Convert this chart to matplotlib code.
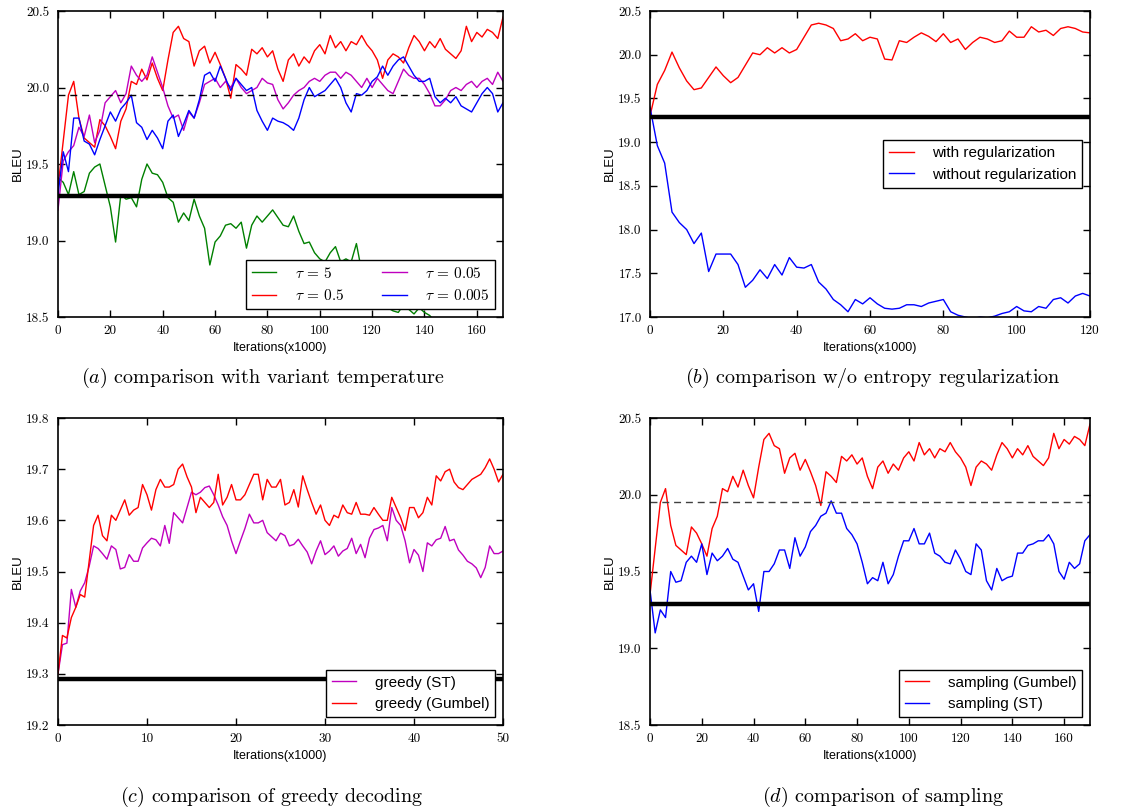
import numpy as np
import matplotlib
matplotlib.use("Agg")
import matplotlib.pyplot as plt
from matplotlib.ticker import FormatStrFormatter

plt.rcParams["font.family"] = "Liberation Sans"
plt.rcParams["mathtext.fontset"] = "cm"

# reference lines
baseline = 19.29
dashed_ref = 19.95

# (a) temperature, x = 0..170 step 2 (x1000 iterations)
x_a = np.arange(0, 171, 2)
tau_05 = [19.35, 19.65, 19.95, 20.04, 19.80, 19.67, 19.64, 19.61, 19.79, 19.75,
          19.68, 19.60, 19.78, 19.86, 20.04, 20.02, 20.12, 20.05, 20.16, 20.06,
          19.98, 20.18, 20.36, 20.40, 20.32, 20.30, 20.14, 20.24, 20.27, 20.16,
          20.23, 20.15, 20.06, 19.93, 20.15, 20.12, 20.08, 20.25, 20.22, 20.26,
          20.20, 20.24, 20.12, 20.04, 20.18, 20.22, 20.14, 20.20, 20.16, 20.24,
          20.28, 20.22, 20.34, 20.26, 20.30, 20.24, 20.30, 20.28, 20.34, 20.28,
          20.24, 20.18, 20.06, 20.18, 20.22, 20.20, 20.16, 20.26, 20.34, 20.30,
          20.24, 20.30, 20.26, 20.32, 20.25, 20.22, 20.19, 20.24, 20.40, 20.30,
          20.36, 20.33, 20.38, 20.36, 20.32, 20.46]
tau_005 = [19.20, 19.52, 19.58, 19.62, 19.74, 19.68, 19.82, 19.64, 19.72, 19.90,
           19.94, 19.98, 19.90, 19.96, 20.14, 20.08, 20.04, 20.08, 20.20, 20.10,
           20.00, 19.88, 19.80, 19.82, 19.72, 19.84, 19.80, 19.90, 20.02, 20.04,
           20.06, 20.00, 20.04, 20.00, 20.06, 20.00, 19.96, 19.98, 20.00, 20.06,
           20.03, 20.02, 19.92, 19.86, 19.90, 19.95, 19.98, 20.00, 20.04, 20.06,
           20.04, 20.08, 20.10, 20.10, 20.06, 20.10, 20.08, 20.04, 20.00, 20.06,
           20.00, 20.06, 20.02, 19.98, 19.96, 20.04, 20.12, 20.08, 20.06, 20.06,
           20.02, 19.96, 19.88, 19.88, 19.92, 19.98, 20.00, 19.98, 20.02, 20.04,
           20.00, 20.04, 20.06, 20.02, 20.10, 20.04]
tau_0005 = [19.30, 19.58, 19.45, 19.80, 19.80, 19.65, 19.63, 19.56, 19.66, 19.75,
            19.84, 19.78, 19.86, 19.90, 19.95, 19.77, 19.74, 19.66, 19.72, 19.67,
            19.60, 19.78, 19.82, 19.68, 19.76, 19.85, 19.80, 19.92, 20.08, 20.10,
            20.04, 20.14, 20.06, 19.98, 20.06, 20.02, 19.98, 20.00, 19.85, 19.78,
            19.72, 19.80, 19.78, 19.77, 19.75, 19.72, 19.80, 19.92, 20.00, 19.94,
            19.96, 19.98, 20.02, 20.06, 20.00, 19.90, 19.84, 19.96, 19.95, 19.98,
            20.04, 20.07, 20.14, 20.08, 20.14, 20.18, 20.20, 20.14, 20.08, 20.04,
            20.04, 20.06, 19.94, 19.90, 19.93, 19.90, 19.94, 19.88, 19.86, 19.84,
            19.90, 19.96, 20.00, 19.96, 19.84, 19.90]
x_green = np.arange(0, 147, 2)
tau_5 = [19.41, 19.38, 19.30, 19.45, 19.30, 19.32, 19.44, 19.48, 19.50, 19.36,
         19.22, 18.99, 19.30, 19.27, 19.28, 19.22, 19.40, 19.50, 19.44, 19.43,
         19.38, 19.28, 19.25, 19.12, 19.18, 19.13, 19.27, 19.16, 19.08, 18.84,
         18.99, 19.03, 19.10, 19.11, 19.08, 19.12, 18.95, 19.10, 19.16, 19.12,
         19.16, 19.20, 19.15, 19.10, 19.09, 19.16, 19.06, 18.98, 18.99, 18.92,
         18.88, 18.86, 18.92, 18.96, 18.86, 18.88, 18.86, 18.98, 18.80, 18.74,
         18.70, 18.66, 18.60, 18.56, 18.54, 18.53, 18.58, 18.55, 18.52, 18.56,
         18.53, 18.51, 18.47, 18.42]

# (b) entropy regularization, x = 0..120 step 2
x_b = np.arange(0, 121, 2)
with_reg = [19.30, 19.66, 19.82, 20.03, 19.85, 19.70, 19.60, 19.62, 19.74, 19.86,
            19.76, 19.68, 19.74, 19.88, 20.02, 20.00, 20.08, 20.02, 20.08, 20.02,
            20.06, 20.20, 20.34, 20.36, 20.34, 20.30, 20.16, 20.18, 20.24, 20.16,
            20.20, 20.18, 19.95, 19.94, 20.16, 20.14, 20.20, 20.25, 20.21, 20.15,
            20.24, 20.14, 20.18, 20.06, 20.14, 20.20, 20.18, 20.14, 20.16, 20.27,
            20.20, 20.20, 20.32, 20.26, 20.28, 20.22, 20.30, 20.32, 20.30, 20.26,
            20.25]
without_reg = [19.40, 18.96, 18.76, 18.20, 18.08, 18.00, 17.84, 17.96, 17.52, 17.72,
               17.72, 17.72, 17.60, 17.34, 17.42, 17.54, 17.44, 17.60, 17.48, 17.68,
               17.57, 17.56, 17.60, 17.40, 17.32, 17.20, 17.14, 17.06, 17.20, 17.15,
               17.22, 17.15, 17.10, 17.09, 17.10, 17.14, 17.14, 17.12, 17.16, 17.18,
               17.20, 17.06, 17.02, 17.00, 16.98, 17.00, 16.99, 17.01, 17.04, 17.06,
               17.12, 17.07, 17.06, 17.12, 17.10, 17.20, 17.22, 17.16, 17.24, 17.27,
               17.24]

# (c) greedy decoding, x = 0..50 step 0.5
x_c = np.arange(0, 50.01, 0.5)
greedy_st = [19.300, 19.357, 19.360, 19.465, 19.430, 19.462, 19.478, 19.510, 19.550, 19.545,
             19.535, 19.524, 19.550, 19.543, 19.505, 19.508, 19.533, 19.520, 19.520, 19.546,
             19.556, 19.565, 19.562, 19.550, 19.590, 19.555, 19.615, 19.605, 19.595, 19.625,
             19.655, 19.650, 19.655, 19.664, 19.667, 19.650, 19.630, 19.607, 19.590, 19.560,
             19.535, 19.560, 19.584, 19.612, 19.595, 19.595, 19.600, 19.576, 19.568, 19.560,
             19.575, 19.570, 19.550, 19.553, 19.563, 19.550, 19.538, 19.515, 19.540, 19.560,
             19.533, 19.540, 19.550, 19.530, 19.540, 19.545, 19.565, 19.535, 19.553, 19.527,
             19.565, 19.582, 19.585, 19.590, 19.560, 19.625, 19.600, 19.590, 19.560, 19.517,
             19.543, 19.532, 19.500, 19.556, 19.550, 19.562, 19.565, 19.588, 19.560, 19.563,
             19.542, 19.532, 19.520, 19.515, 19.507, 19.488, 19.508, 19.550, 19.535, 19.535,
             19.540]
greedy_gumbel = [19.300, 19.375, 19.370, 19.410, 19.430, 19.455, 19.450, 19.520, 19.590, 19.610,
                 19.570, 19.560, 19.610, 19.600, 19.620, 19.640, 19.610, 19.620, 19.625, 19.670,
                 19.650, 19.620, 19.660, 19.680, 19.665, 19.665, 19.670, 19.700, 19.710, 19.685,
                 19.665, 19.615, 19.645, 19.635, 19.625, 19.635, 19.690, 19.630, 19.645, 19.670,
                 19.640, 19.640, 19.650, 19.670, 19.690, 19.690, 19.640, 19.680, 19.665, 19.665,
                 19.680, 19.630, 19.635, 19.660, 19.626, 19.687, 19.660, 19.635, 19.612, 19.630,
                 19.600, 19.590, 19.610, 19.605, 19.630, 19.615, 19.612, 19.635, 19.612, 19.612,
                 19.610, 19.625, 19.612, 19.600, 19.600, 19.645, 19.625, 19.605, 19.580, 19.625,
                 19.625, 19.605, 19.615, 19.645, 19.630, 19.687, 19.677, 19.695, 19.700, 19.675,
                 19.664, 19.660, 19.670, 19.680, 19.685, 19.690, 19.703, 19.720, 19.700, 19.675,
                 19.690]

# (d) sampling, x = 0..170 step 2 (Gumbel run is the tau=0.5 run)
sampling_gumbel = tau_05
sampling_st = [19.38, 19.10, 19.25, 19.20, 19.50, 19.43, 19.44, 19.56, 19.60, 19.56,
               19.68, 19.48, 19.62, 19.57, 19.60, 19.65, 19.58, 19.56, 19.47, 19.38,
               19.42, 19.24, 19.50, 19.50, 19.55, 19.64, 19.64, 19.52, 19.72, 19.60,
               19.66, 19.76, 19.80, 19.86, 19.88, 19.96, 19.88, 19.88, 19.78, 19.74,
               19.68, 19.56, 19.42, 19.46, 19.44, 19.56, 19.42, 19.48, 19.60, 19.70,
               19.70, 19.78, 19.68, 19.68, 19.75, 19.62, 19.60, 19.56, 19.55, 19.64,
               19.58, 19.50, 19.48, 19.68, 19.64, 19.44, 19.38, 19.52, 19.44, 19.46,
               19.47, 19.62, 19.62, 19.67, 19.68, 19.70, 19.70, 19.74, 19.68, 19.50,
               19.45, 19.56, 19.52, 19.55, 19.70, 19.74]

captions = [r"$(a)$ comparison with variant temperature",
            r"$(b)$ comparison w/o entropy regularization",
            r"$(c)$ comparison of greedy decoding",
            r"$(d)$ comparison of sampling"]

fig = plt.figure(figsize=(11.26, 8.09), dpi=100)
W, H = 1126.0, 809.0


def make_axes(x0, y0, x1, y1):
    return fig.add_axes([x0 / W, 1 - y1 / H, (x1 - x0) / W, (y1 - y0) / H])


def style(ax, xlim, ylim, yticks, xticks):
    ax.set_xlim(*xlim)
    ax.set_ylim(*ylim)
    ax.set_yticks(yticks)
    ax.set_xticks(xticks)
    ax.yaxis.set_major_formatter(FormatStrFormatter("%.1f"))
    ax.tick_params(direction="in", top=True, right=True, length=5, width=1,
                   labelsize=9.5, pad=6)
    for lab in ax.get_xticklabels() + ax.get_yticklabels():
        lab.set_fontfamily("cmr10")
    ax.set_xlabel("Iterations(x1000)", fontsize=9, labelpad=3)
    ax.set_ylabel("BLEU", fontsize=9.5, labelpad=2)
    for s in ax.spines.values():
        s.set_linewidth(1.2)


def legend(ax, **kw):
    leg = ax.legend(fancybox=False, framealpha=1, edgecolor="k", fontsize=11,
                    handlelength=1.6, handletextpad=1.2, **kw)
    leg.get_frame().set_linewidth(1.0)
    return leg


# (a)
ax = make_axes(58, 11, 503, 317)
ax.plot(x_green, tau_5, color="g", lw=1, label=r"$\tau\,=\,5$")
ax.plot(x_a, tau_05, color="r", lw=1, label=r"$\tau\,=\,0.5$")
ax.plot(x_a, tau_005, color="m", lw=1, label=r"$\tau\,=\,0.05$")
ax.plot(x_a, tau_0005, color="b", lw=1, label=r"$\tau\,=\,0.005$")
ax.axhline(dashed_ref, color="k", ls=(0, (5, 3.5)), lw=1)
ax.axhline(baseline, color="k", lw=3.2)
style(ax, (0, 170), (18.5, 20.5), np.arange(18.5, 20.51, 0.5), np.arange(0, 161, 20))
legend(ax, loc="lower right", ncol=2, columnspacing=2.5)

# (b)
ax = make_axes(650, 11, 1090, 317)
ax.plot(x_b, with_reg, color="r", lw=1, label="with regularization")
ax.plot(x_b, without_reg, color="b", lw=1, label="without regularization")
ax.axhline(baseline, color="k", lw=3.2)
style(ax, (0, 120), (17.0, 20.5), np.arange(17.0, 20.51, 0.5), np.arange(0, 121, 20))
legend(ax, loc="center right")

# (c)
ax = make_axes(58, 418, 503, 725)
ax.plot(x_c, greedy_st, color="m", lw=1, label="greedy (ST)")
ax.plot(x_c, greedy_gumbel, color="r", lw=1, label="greedy (Gumbel)")
ax.axhline(baseline, color="k", lw=3.2)
style(ax, (0, 50), (19.2, 19.8), np.arange(19.2, 19.81, 0.1), np.arange(0, 51, 10))
legend(ax, loc="lower right")

# (d)
ax = make_axes(650, 418, 1090, 725)
ax.plot(x_a, sampling_gumbel, color="r", lw=1, label="sampling (Gumbel)")
ax.plot(x_a, sampling_st, color="b", lw=1, label="sampling (ST)")
ax.axhline(dashed_ref, color="0.25", ls=(0, (5, 3.5)), lw=1)
ax.axhline(baseline, color="k", lw=3.2)
style(ax, (0, 170), (18.5, 20.5), np.arange(18.5, 20.51, 0.5), np.arange(0, 161, 20))
legend(ax, loc="lower right")

# captions under each panel
cap_pos = [(263, 378), (873, 378), (272, 797), (883, 797)]
for (cx, cy), txt in zip(cap_pos, captions):
    fig.text(cx / W, 1 - cy / H, txt, ha="center", va="center",
             fontsize=14.5, family="cmr10")

fig.savefig("out.png", dpi=100)
